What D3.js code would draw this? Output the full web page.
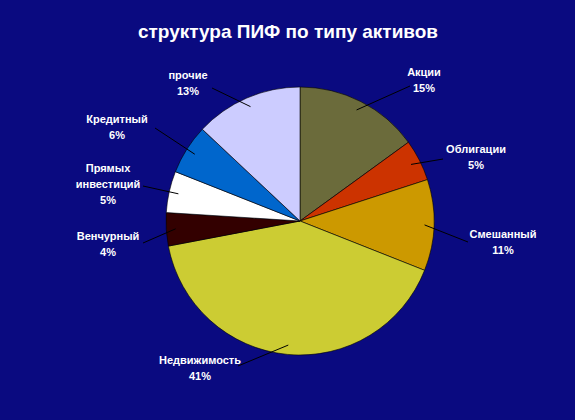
<!DOCTYPE html>
<html><head><meta charset="utf-8">
<script src="https://cdn.jsdelivr.net/npm/d3@7"></script>
<style>body{margin:0;background:#0a0a80}</style>
</head><body><div id="chart"></div>
<script>
const categories = ["Акции","Облигации","Смешанный","Недвижимость","Венчурный","Прямых инвестиций","Кредитный","прочие"];
const values = [15,5,11,41,4,5,6,13];
const colors = ["#6b6b3b","#cc3300","#cc9900","#cccc33","#330000","#ffffff","#0066cc","#ccccff"];
// label text lines and where they sit
const labelLines = [["Акции"],["Облигации"],["Смешанный"],["Недвижимость"],["Венчурный"],["Прямых","инвестиций"],["Кредитный"],["прочие"]];
const labelPos = [[424,72],[476,149],[503,234],[200,360],[108,236],[108,168],[117,119],[188,75]];
const lineEnd = [[410,86],[443,159],[468,242],[238,366],[143,243],[143,186],[155,128],[212,88]];

const W = 575, H = 420, cx = 300, cy = 221, r = 134;
const svg = d3.select("#chart").append("svg").attr("width", W).attr("height", H).style("background", "#0a0a80");
svg.append("text").attr("x", 288).attr("y", 38).attr("text-anchor", "middle")
  .attr("fill", "#fff").attr("font-family", "Liberation Sans, Arial").attr("font-weight", "bold")
  .attr("font-size", 19).text("структура ПИФ по типу активов");

const pie = d3.pie().sort(null).value(d => d);
const arcs = pie(values);
const arc = d3.arc().innerRadius(0).outerRadius(r);
const g = svg.append("g").attr("transform", `translate(${cx},${cy})`);
g.selectAll("path").data(arcs).join("path").attr("d", arc)
  .attr("fill", (d, i) => colors[i]).attr("stroke", "#000").attr("stroke-width", 0.6);

arcs.forEach((d, i) => {
  const a = (d.startAngle + d.endAngle) / 2;
  const x0 = cx + Math.sin(a) * r * 0.93, y0 = cy - Math.cos(a) * r * 0.93;
  svg.append("line").attr("x1", x0).attr("y1", y0).attr("x2", lineEnd[i][0]).attr("y2", lineEnd[i][1])
    .attr("stroke", "#000").attr("stroke-width", 1);
  const t = svg.append("text").attr("text-anchor", "middle").attr("fill", "#fff")
    .attr("font-family", "Liberation Sans, Arial").attr("font-weight", "bold").attr("font-size", 11);
  const lines = labelLines[i].concat([values[i] + "%"]);
  lines.forEach((s, k) => t.append("tspan").attr("x", labelPos[i][0]).attr("y", labelPos[i][1] + 4 + k * 16).text(s));
});
</script></body></html>
